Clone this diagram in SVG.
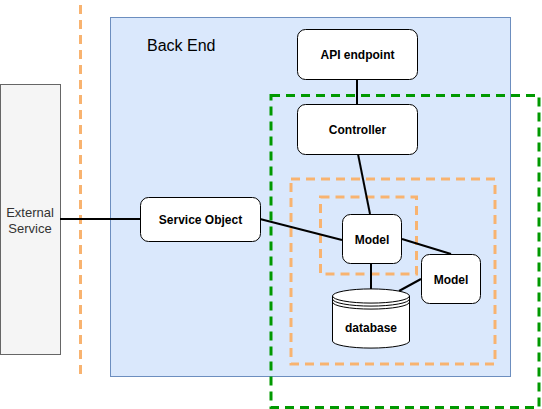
<svg xmlns="http://www.w3.org/2000/svg" width="542" height="409" viewBox="0 0 542 409">
<style>
.node{fill:#ffffff;stroke:#000000;stroke-width:1}
.lbl{font-family:"Liberation Sans",Arial,sans-serif;font-size:12px;font-weight:bold;fill:#000;text-anchor:middle}
.conn{stroke:#000;stroke-width:2;fill:none}
.odash{fill:none;stroke:#F8B370;stroke-width:3;stroke-dasharray:9,6}
</style>
<rect width="542" height="409" fill="#ffffff"/>
<g id="backend">
<rect x="110.5" y="17.5" width="400" height="359" fill="#DAE8FC" stroke="#6C8EBF" stroke-width="1"/>
<text x="147" y="51" font-family="'Liberation Sans',Arial,sans-serif" font-size="16" fill="#000">Back End</text>
</g>
<g id="boundary">
<line x1="80.5" y1="5" x2="80.5" y2="374" class="odash"/>
</g>
<g id="external">
<rect x="0.5" y="84.5" width="60" height="270" fill="#F5F5F5" stroke="#666666"/>
<text x="30" y="217" font-family="'Liberation Sans',Arial,sans-serif" font-size="13" fill="#333" text-anchor="middle">External</text>
<text x="30" y="233" font-family="'Liberation Sans',Arial,sans-serif" font-size="13" fill="#333" text-anchor="middle">Service</text>
</g>
<g id="orange-outer"><rect x="291" y="179" width="204" height="185" class="odash"/></g>
<g id="orange-inner"><rect x="320.5" y="197" width="96" height="77" class="odash"/></g>
<g id="connectors">
<line x1="60" y1="219" x2="140" y2="219" class="conn"/>
<line x1="357" y1="79" x2="357" y2="104" class="conn"/>
<line x1="358" y1="154" x2="370" y2="214" class="conn"/>
<line x1="260" y1="219" x2="342" y2="240" class="conn"/>
<line x1="402" y1="239" x2="451" y2="254" class="conn"/>
<line x1="371" y1="264" x2="371" y2="289" class="conn"/>
<line x1="421" y1="279" x2="399" y2="291" class="conn"/>
</g>
<g id="api">
<rect x="297.5" y="29.5" width="120" height="50" rx="8" class="node"/>
<text x="357.5" y="59" class="lbl">API endpoint</text>
</g>
<g id="controller">
<rect x="297.5" y="104.5" width="120" height="50" rx="8" class="node"/>
<text x="357.5" y="134" class="lbl">Controller</text>
</g>
<g id="service-object">
<rect x="140.5" y="197.5" width="120" height="44" rx="8" class="node"/>
<text x="200.5" y="224" class="lbl">Service Object</text>
</g>
<g id="model1">
<rect x="342.5" y="214.5" width="59" height="49" rx="8" class="node"/>
<text x="372" y="244" class="lbl">Model</text>
</g>
<g id="model2">
<rect x="421.5" y="254.5" width="59" height="49" rx="8" class="node"/>
<text x="451" y="284" class="lbl">Model</text>
</g>
<g id="database">
<path d="M332.5,296 A38,7 0 0 1 409.5,296 L409.5,341 A38,7 0 0 1 332.5,341 Z" class="node"/>
<path d="M332.5,296 A38,7 0 0 0 409.5,296 M332.5,299 A38,7 0 0 0 409.5,299 M332.5,302 A38,7 0 0 0 409.5,302" fill="none" stroke="#000"/>
<text x="371" y="332" class="lbl">database</text>
</g>
<g id="green-boundary"><rect x="271" y="95.5" width="268" height="312" fill="none" stroke="#009900" stroke-width="3" stroke-dasharray="9,6"/></g>
</svg>
